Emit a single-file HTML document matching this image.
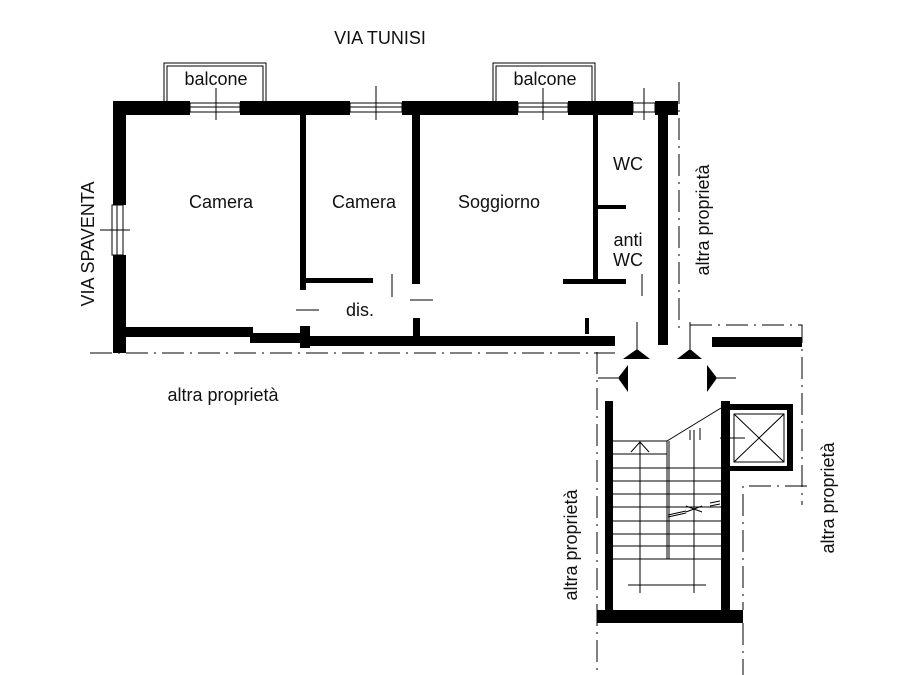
<!DOCTYPE html>
<html><head><meta charset="utf-8"><style>
html,body{margin:0;padding:0;background:#fff;}
svg{display:block}
text{font-family:"Liberation Sans",Arial,sans-serif;font-size:18px;fill:#111}
</style></head><body>
<svg width="917" height="675" viewBox="0 0 917 675" xmlns="http://www.w3.org/2000/svg">
<g fill="#000">
<rect x="113" y="101" width="77" height="14"/>
<rect x="240" y="101" width="110" height="14"/>
<rect x="402" y="101" width="116" height="14"/>
<rect x="568" y="101" width="65" height="14"/>
<rect x="655" y="101" width="23" height="14"/>
<rect x="113" y="101" width="13" height="104"/>
<rect x="113" y="255" width="13" height="98"/>
<rect x="300" y="115" width="6" height="175"/>
<rect x="306" y="278" width="67" height="5"/>
<rect x="412" y="115" width="8" height="169"/>
<rect x="413" y="318" width="7" height="20"/>
<rect x="593" y="115" width="5" height="167"/>
<rect x="598" y="205" width="28" height="4"/>
<rect x="563" y="279" width="63" height="5"/>
<rect x="658" y="115" width="10" height="230"/>
<rect x="113" y="327" width="140" height="10"/>
<rect x="250" y="333" width="60" height="10"/>
<rect x="300" y="326" width="10" height="22"/>
<rect x="310" y="336" width="305" height="10"/>
<rect x="585" y="318" width="4" height="16"/>
<rect x="712" y="337" width="90" height="10"/>
<rect x="605" y="401" width="8" height="211"/>
<rect x="721" y="401" width="9" height="211"/>
<rect x="721" y="404" width="72" height="6"/>
<rect x="787" y="404" width="6" height="67"/>
<rect x="730" y="466" width="63" height="5"/>
<rect x="597" y="610" width="146" height="13"/>
<polygon points="623,359 650,359 637,349"/>
<polygon points="677,359 702,359 690,349"/>
<polygon points="618,378 628,365 628,392"/>
<polygon points="717,378 707,365 707,392"/>
</g>
<g fill="none" stroke="#000" stroke-width="1">
<path d="M164,101 V63 H266 V101"/><path d="M167,101 V66 H263 V101"/>
<path d="M493,101 V63 H595 V101"/><path d="M496,101 V66 H592 V101"/>
<rect x="190" y="103" width="50" height="9"/><line x1="190" y1="107" x2="240" y2="107"/>
<line x1="216" y1="88" x2="216" y2="120"/>
<rect x="350" y="103" width="52" height="9"/><line x1="350" y1="107" x2="402" y2="107"/>
<line x1="376" y1="86" x2="376" y2="120"/>
<rect x="518" y="103" width="50" height="9"/><line x1="518" y1="107" x2="568" y2="107"/>
<line x1="543" y1="88" x2="543" y2="120"/>
<rect x="633" y="103" width="22" height="9"/>
<line x1="644" y1="88" x2="644" y2="120"/>
<rect x="112" y="205" width="11" height="50"/><line x1="117" y1="205" x2="117" y2="255"/>
<line x1="100" y1="230" x2="130" y2="230"/>
<line x1="392" y1="274" x2="392" y2="297"/>
<line x1="296" y1="310" x2="319" y2="310"/>
<line x1="410" y1="300" x2="433" y2="300"/>
<line x1="642" y1="274" x2="642" y2="296"/>
<line x1="637" y1="322" x2="637" y2="349"/>
<line x1="690" y1="322" x2="690" y2="349"/>
<line x1="598" y1="378" x2="618" y2="378"/>
<line x1="717" y1="378" x2="736" y2="378"/>
<line x1="613" y1="441" x2="667" y2="441"/>
<line x1="613" y1="454" x2="667" y2="454"/>
<line x1="613" y1="468" x2="721" y2="468"/>
<line x1="613" y1="481" x2="721" y2="481"/>
<line x1="613" y1="494" x2="721" y2="494"/>
<line x1="613" y1="507" x2="721" y2="507"/>
<line x1="613" y1="521" x2="721" y2="521"/>
<line x1="613" y1="534" x2="721" y2="534"/>
<line x1="613" y1="546" x2="721" y2="546"/>
<line x1="613" y1="559" x2="721" y2="559"/>
<line x1="667" y1="441" x2="667" y2="559"/><line x1="669" y1="441" x2="669" y2="559"/>
<line x1="667" y1="441" x2="721" y2="408"/>
<line x1="640" y1="443" x2="640" y2="593"/>
<polyline points="631,452 640,442 649,452"/>
<line x1="694" y1="430" x2="694" y2="593"/>
<line x1="628" y1="585" x2="706" y2="585"/>
<line x1="690" y1="430" x2="690" y2="440"/><line x1="700" y1="428" x2="700" y2="440"/>
<line x1="720" y1="438" x2="745" y2="438"/>
<line x1="668" y1="515" x2="686" y2="511"/><line x1="668" y1="517" x2="686" y2="513"/>
<line x1="686" y1="506" x2="702" y2="512"/><line x1="702" y1="506" x2="686" y2="512"/>
<line x1="710" y1="503" x2="720" y2="501"/><line x1="710" y1="506" x2="720" y2="504"/>
<rect x="734" y="414" width="50" height="48"/>
<line x1="734" y1="414" x2="784" y2="462"/><line x1="784" y1="414" x2="734" y2="462"/>
<g stroke-dasharray="22,6,2,6">
<line x1="90" y1="353" x2="615" y2="353"/>
<line x1="679" y1="82" x2="679" y2="330"/>
<polyline points="690,325 802,325 802,505"/>
<line x1="597" y1="352" x2="597" y2="675"/>
<line x1="743" y1="623" x2="743" y2="675"/>
<polyline points="807,486 743,486 743,610"/>
</g>
</g>
<text x="380" y="44" text-anchor="middle">VIA TUNISI</text>
<text x="216" y="85" text-anchor="middle">balcone</text>
<text x="545" y="85" text-anchor="middle">balcone</text>
<text x="221" y="208" text-anchor="middle">Camera</text>
<text x="364" y="208" text-anchor="middle">Camera</text>
<text x="499" y="208" text-anchor="middle">Soggiorno</text>
<text x="628" y="170" text-anchor="middle">WC</text>
<text x="628" y="246" text-anchor="middle">anti</text>
<text x="628" y="266" text-anchor="middle">WC</text>
<text x="360" y="316" text-anchor="middle">dis.</text>
<text x="223" y="401" text-anchor="middle">altra proprietà</text>
<text transform="translate(94,244) rotate(-90)" text-anchor="middle">VIA SPAVENTA</text>
<text transform="translate(709,220) rotate(-90)" text-anchor="middle">altra proprietà</text>
<text transform="translate(577,545) rotate(-90)" text-anchor="middle">altra proprietà</text>
<text transform="translate(834,498) rotate(-90)" text-anchor="middle">altra proprietà</text>
</svg>
</body></html>
